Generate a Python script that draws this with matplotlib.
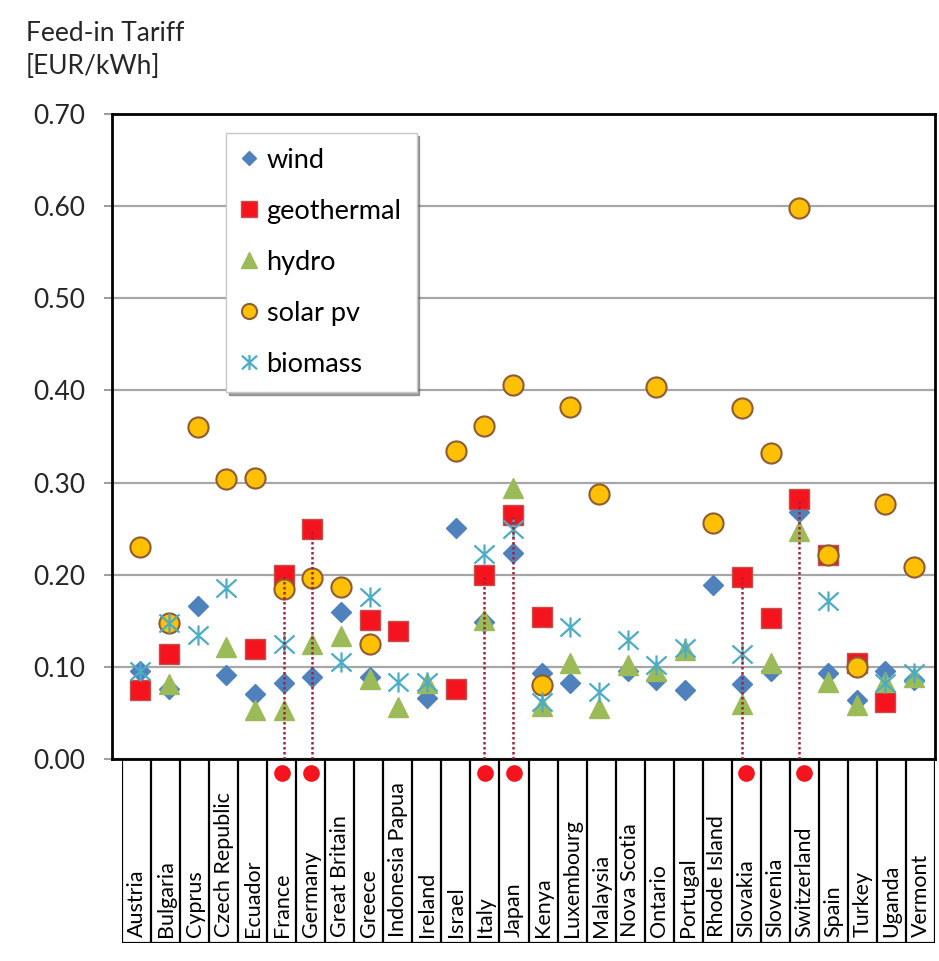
import numpy as np
import matplotlib.pyplot as plt
from matplotlib.path import Path

nan = np.nan

countries = ['Austria', 'Bulgaria', 'Cyprus', 'Czech Republic', 'Ecuador', 'France',
             'Germany', 'Great Britain', 'Greece', 'Indonesia Papua', 'Ireland', 'Israel',
             'Italy', 'Japan', 'Kenya', 'Luxembourg', 'Malaysia', 'Nova Scotia', 'Ontario',
             'Portugal', 'Rhode Island', 'Slovakia', 'Slovenia', 'Switzerland', 'Spain',
             'Turkey', 'Uganda', 'Vermont']

wind = [0.096, 0.076, 0.166, 0.091, 0.071, 0.083, 0.089, 0.159, 0.089, nan, 0.066, 0.251,
        0.149, 0.224, 0.093, 0.083, nan, 0.095, 0.086, 0.075, 0.189, 0.081, 0.096, 0.268,
        0.093, 0.064, 0.095, 0.086]
geothermal = [0.075, 0.114, nan, nan, 0.119, 0.200, 0.250, nan, 0.151, 0.139, nan, 0.076,
              0.200, 0.265, 0.154, nan, nan, nan, nan, nan, nan, 0.197, 0.153, 0.282,
              0.221, 0.104, 0.062, nan]
hydro = [nan, 0.081, nan, 0.122, 0.053, 0.053, 0.125, 0.134, 0.087, 0.056, 0.082, nan,
         0.151, 0.294, 0.058, 0.104, 0.055, 0.102, 0.095, 0.118, nan, 0.060, 0.104, 0.247,
         0.084, 0.059, 0.084, 0.089]
solar = [0.230, 0.148, 0.360, 0.304, 0.305, 0.185, 0.196, 0.187, 0.125, nan, nan, 0.334,
         0.361, 0.406, 0.080, 0.382, 0.288, nan, 0.404, nan, 0.256, 0.381, 0.332, 0.598,
         0.221, 0.100, 0.277, 0.208]
biomass = [0.096, 0.148, 0.135, 0.186, nan, 0.125, nan, 0.105, 0.176, 0.084, 0.084, nan,
           0.222, 0.250, 0.062, 0.143, 0.073, 0.129, 0.102, 0.120, nan, 0.114, nan, nan,
           0.172, nan, 0.082, 0.093]

# countries marked with a red dot and a dotted line from the geothermal tariff
highlight = ['France', 'Germany', 'Italy', 'Japan', 'Slovakia', 'Switzerland']

yticks = [0.0, 0.1, 0.2, 0.3, 0.4, 0.5, 0.6, 0.7]

plt.rcParams['font.family'] = ['Lato', 'DejaVu Sans']

# asterisk: an x with a vertical bar
star = Path([(0, -1), (0, 1), (-1, -0.9), (1, 0.9), (-1, 0.9), (1, -0.9)],
            [Path.MOVETO, Path.LINETO, Path.MOVETO, Path.LINETO, Path.MOVETO, Path.LINETO])

W, H = 939, 961
fig = plt.figure(figsize=(W / 100, H / 100), dpi=100)
ax = fig.add_axes([112 / W, 1 - 759 / H, (935 - 112) / W, (759 - 114) / H])

x = np.arange(len(countries))
ax.plot(x, wind, 'D', ms=10, color='#4f81bd', mec='#4f81bd', label='wind', zorder=3)
ax.plot(x, geothermal, 's', ms=14.5, color='#f5141e', mec='#c0504d', mew=1, label='geothermal', zorder=4)
ax.plot(x, hydro, '^', ms=15, color='#9bbb59', mec='#9bbb59', label='hydro', zorder=5)
ax.plot(x, solar, 'o', ms=14.5, color='#ffc000', mec='#8e5c35', mew=1.5, label='solar pv', zorder=6)
ax.plot(x, biomass, marker=star, ls='none', ms=14.5, color='#4bacc6', mew=1.6, fillstyle='none',
        label='biomass', zorder=7)

hi = [countries.index(c) for c in highlight]
ax.vlines(hi, 0, [geothermal[i] for i in hi], colors='#a3233a', linestyles=(0, (1, 1)),
          lw=1.8, zorder=8)

ax.set_xlim(-0.99, 27.73)
ax.set_ylim(0, 0.7)
ax.set_yticks(yticks)
ax.set_yticklabels(['%.2f' % v for v in yticks])
ax.set_xticks([])
ax.yaxis.grid(True, color='#a6a6a6', lw=1.6)
ax.set_axisbelow(True)
ax.tick_params(axis='y', length=6, width=1.2, color='#8c8c8c', pad=13,
               labelsize=19, labelcolor='#262626')
for s in ax.spines.values():
    s.set_linewidth(2)
    s.set_color('black')

leg = ax.legend(loc='upper left', bbox_to_anchor=(0.1385, 0.9705), borderaxespad=0,
                fontsize=19.5, fancybox=False, shadow=True, edgecolor='#c8c8c8',
                markerscale=0.75, labelspacing=0.96, handlelength=0.6, handletextpad=0.35,
                borderpad=0.55)
leg.get_frame().set_linewidth(1)

# table of country names below the plot
tb = fig.add_axes([122 / W, 1 - 943 / H, (935 - 122) / W, (943 - 759) / H])
tb.set_xlim(0, len(countries))
tb.set_ylim(0, 1)
tb.axis('off')
tb.vlines(np.arange(len(countries) + 1), 0, 1, colors='black', lw=1.6)
tb.hlines(0, 0, len(countries), colors='black', lw=1.6)
for i, c in enumerate(countries):
    tb.text(i + 0.5, 0.03, c, rotation=90, ha='center', va='bottom', fontsize=15.5,
            color='black')
tb.plot([i + 0.5 for i in hi], [0.922] * len(hi), 'o', ms=12, color='#f5141e', mec='none')

fig.text(26 / W, 1 - 21 / H, 'Feed-in Tariff\n[EUR/kWh]', ha='left', va='top',
         fontsize=19, color='#262626', linespacing=1.4)

fig.savefig('out.png', dpi=100)
